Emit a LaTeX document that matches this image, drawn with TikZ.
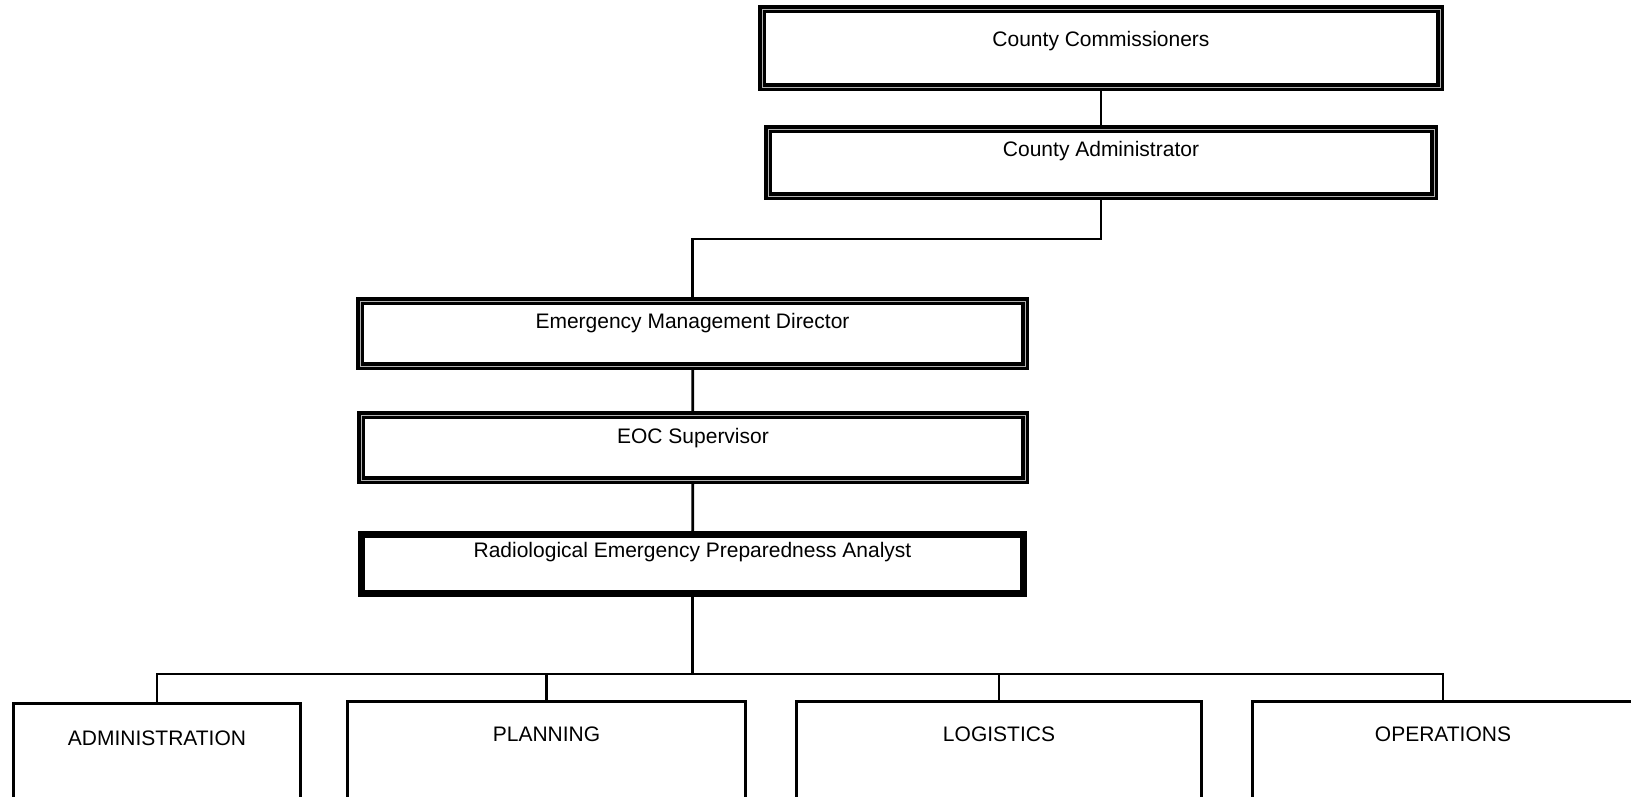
\documentclass[tikz,border=0pt]{standalone}
\usepackage{fontspec}
\setmainfont{Liberation Sans}
\usetikzlibrary{backgrounds}
\newcommand\boxfont{\fontsize{21}{25}\selectfont}
\begin{document}
\begin{tikzpicture}[x=1pt,y=-1pt,
  dbox/.style={draw, line width=3.5pt, double=black!30, double distance=0.9pt,
    inner sep=0pt, outer sep=0pt, text height=0pt, font=\boxfont},
  heavybox/.style={draw, line width=6.8pt, inner sep=0pt, outer sep=0pt,
    text height=0pt, font=\boxfont},
  sbox/.style={draw, line width=3pt, inner sep=0pt, outer sep=0pt,
    text height=0pt, font=\boxfont},
  link/.style={line width=2.8pt}]
\useasboundingbox (0,0) rectangle (1631,796);

% chain of command
\node[dbox, minimum width=678pt, minimum height=78pt, text depth=3pt]
  (comm) at (1101,48) {County Commissioners};
\node[dbox, minimum width=666pt, minimum height=67pt, text depth=12pt]
  (admin) at (1101,162.5) {County Administrator};
\node[dbox, minimum width=665pt, minimum height=65pt, text depth=11pt]
  (emd) at (692.5,333.5) {Emergency Management Director};
\node[dbox, minimum width=664pt, minimum height=65pt, text depth=9pt]
  (eoc) at (693,447.5) {EOC Supervisor};
\node[heavybox, minimum width=662pt, minimum height=59pt, text depth=13pt]
  (rep) at (692.5,564) {Radiological Emergency Preparedness Analyst};

% functional sections, running off the lower edge
\node[sbox, minimum width=287pt, minimum height=98pt, text depth=14pt]
  (adm) at (157,752.5) {ADMINISTRATION};
\node[sbox, minimum width=398pt, minimum height=100pt, text depth=20pt]
  (plan) at (546.5,751.5) {PLANNING};
\node[sbox, minimum width=405pt, minimum height=100pt, text depth=20pt]
  (log) at (999,751.5) {LOGISTICS};
\node[sbox, minimum width=381pt, minimum height=100pt, text depth=20pt]
  (ops) at (1443,751.5) {OPERATIONS};

\coordinate (elbow) at (1101,239);
\coordinate (bus) at (692.5,674);

\begin{pgfonlayer}{background}
  \draw[link] (comm) -- (admin);
  \draw[link] (admin.south) -- (elbow) -| (emd.north);
  \draw[link] (emd) -- (eoc);
  \draw[link] (eoc) -- (rep);
  \draw[link] (rep.south) -- (bus);
  \draw[link] (bus) -| (adm.north);
  \draw[link] (bus) -| (plan.north);
  \draw[link] (bus) -| (log.north);
  \draw[link] (bus) -| (ops.north);
\end{pgfonlayer}
\end{tikzpicture}
\end{document}
